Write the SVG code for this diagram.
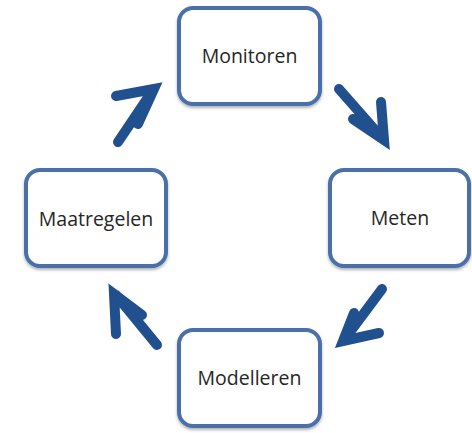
<svg xmlns="http://www.w3.org/2000/svg" width="472" height="433" viewBox="0 0 472 433">
  <defs>
    <filter id="sh" x="-10%" y="-10%" width="120%" height="125%">
      <feDropShadow dx="0" dy="2" stdDeviation="1.5" flood-color="#000" flood-opacity="0.3"/>
    </filter>
    <style>
      .box { fill: #ffffff; stroke: #4a70a8; stroke-width: 4; filter: url(#sh); }
      .lbl { font-family: "Open Sans", "Liberation Sans", sans-serif; font-size: 19.5px; fill: #262626; text-anchor: middle; }
      .arr { fill: none; stroke: #21508f; stroke-width: 10; stroke-linecap: round; stroke-linejoin: miter; }
    </style>
  </defs>
  <rect width="472" height="433" fill="#ffffff"/>
  <g id="monitoren">
    <rect class="box" x="179" y="8" width="141" height="96" rx="14"/>
    <text class="lbl" x="249.5" y="63">Monitoren</text>
  </g>
  <g id="meten">
    <rect class="box" x="330" y="170" width="139" height="96" rx="14"/>
    <text class="lbl" x="400" y="225">Meten</text>
  </g>
  <g id="modelleren">
    <rect class="box" x="179" y="330" width="141" height="96" rx="14"/>
    <text class="lbl" x="249.5" y="385">Modelleren</text>
  </g>
  <g id="maatregelen">
    <rect class="box" x="26" y="170" width="140" height="96" rx="14"/>
    <text class="lbl" x="96" y="226">Maatregelen</text>
  </g>
  <g id="connectors">
    <path class="arr" d="M339 89 L383 139 M381 102 L384 140 L353 119"/>
    <path class="arr" d="M382 289 L344 340 M354 313 L343 341 L379 333"/>
    <path class="arr" d="M118 142 L153 90 M116 96 L154 89 L138 124"/>
    <path class="arr" d="M157 345 L116 295 M116 334 L114 294 L142 315"/>
  </g>
</svg>
